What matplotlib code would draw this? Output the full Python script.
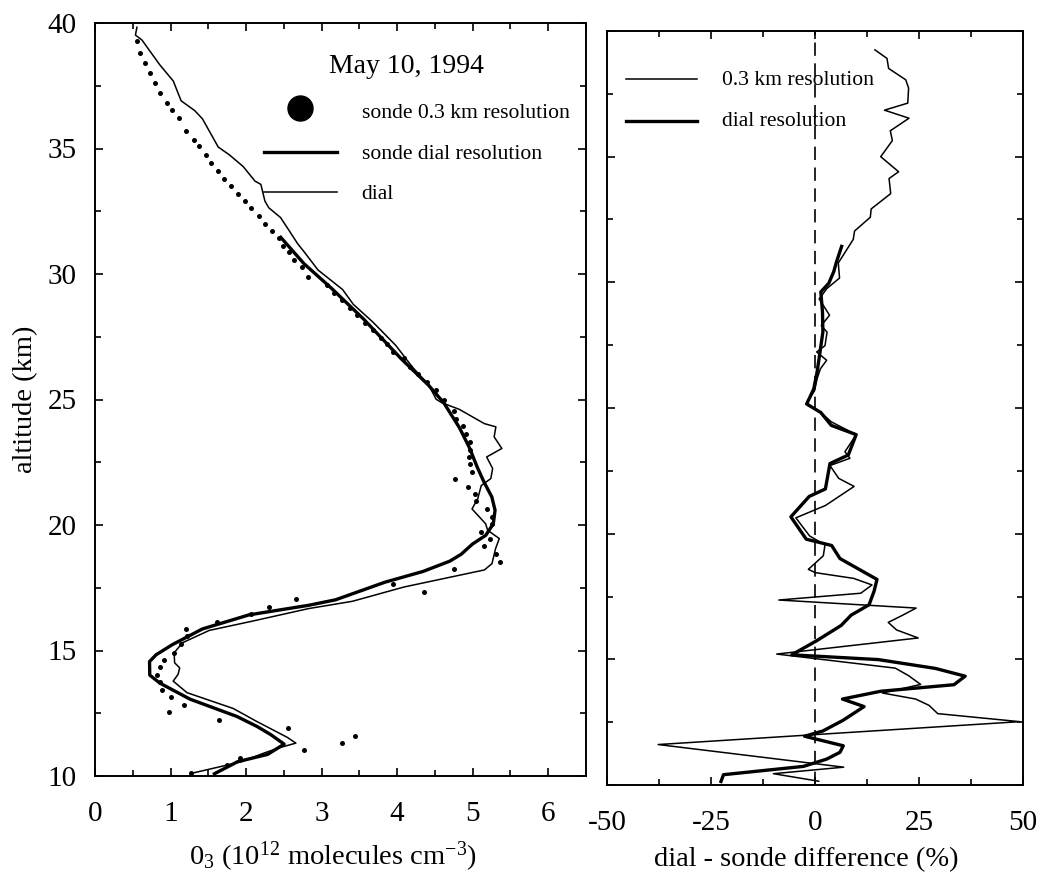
import matplotlib
matplotlib.use("Agg")
import matplotlib.pyplot as plt
from matplotlib.ticker import MultipleLocator

plt.rcParams.update({
    "font.family": ["Liberation Serif", "DejaVu Serif"],
    "mathtext.fontset": "custom",
    "mathtext.rm": "Liberation Serif",
    "mathtext.it": "Liberation Serif:italic",
    "mathtext.bf": "Liberation Serif:bold",
    "mathtext.default": "regular",
    "axes.unicode_minus": False,
    "axes.linewidth": 1.4,
})

# ---- left panel: ozone number density profiles, May 10, 1994 ----
# ozonesonde at 0.3 km resolution (altitude km, O3 in 1e12 molecules cm^-3)
sonde_alt = [39.28, 38.79, 38.40, 38.01, 37.61, 37.23, 36.82, 36.53, 36.23, 35.70,
             35.35, 35.09, 34.75, 34.42, 34.11, 33.80, 33.52, 33.18, 32.89, 32.61,
             32.30, 32.00, 31.72, 31.43, 31.13, 30.86, 30.54, 30.28, 29.88, 29.57,
             29.25, 28.95, 28.65, 28.35, 28.05, 27.75, 27.45, 27.20, 26.91, 26.64,
             26.31, 26.00, 25.70, 25.39, 25.00, 24.54, 24.21, 23.93, 23.62, 23.32,
             23.00, 22.69, 22.43, 22.13, 21.84, 21.53, 21.24, 20.95, 20.65, 20.32,
             20.02, 19.72, 19.43, 19.15, 18.86, 18.53, 18.23, 17.65, 17.35, 17.06,
             16.74, 16.45, 16.13, 15.84, 15.56, 15.24, 14.92, 14.63, 14.34, 14.03,
             13.74, 13.44, 13.14, 12.83, 12.54, 12.24, 11.91, 11.61, 11.31, 11.02,
             10.70, 10.43, 10.11]
sonde_o3 = [0.557, 0.599, 0.662, 0.730, 0.798, 0.861, 0.953, 1.025, 1.107, 1.207,
            1.310, 1.376, 1.464, 1.532, 1.624, 1.712, 1.800, 1.893, 1.980, 2.062,
            2.166, 2.253, 2.346, 2.433, 2.485, 2.563, 2.640, 2.742, 2.820, 3.075,
            3.17, 3.27, 3.37, 3.47, 3.58, 3.68, 3.78, 3.86, 3.949, 4.092,
            4.166, 4.27, 4.40, 4.514, 4.62, 4.746, 4.783, 4.876, 4.917, 4.970,
            4.96, 4.957, 4.958, 4.995, 4.768, 4.937, 5.024, 5.041, 5.194, 5.262,
            5.25, 5.106, 5.224, 5.150, 5.304, 5.356, 4.759, 3.949, 4.356, 2.663,
            2.309, 2.068, 1.612, 1.207, 1.219, 1.134, 1.048, 0.918, 0.859, 0.819,
            0.86, 0.893, 1.000, 1.179, 0.983, 1.645, 2.558, 3.448, 3.266, 2.766,
            1.915, 1.753, 1.268]

# ozonesonde degraded to the lidar resolution
sonde_dial_alt = [31.46, 30.41, 29.44, 28.20, 26.63, 25.58, 24.87, 23.88, 23.09, 22.30,
                  21.71, 21.12, 20.59, 20.05, 19.59, 19.24, 18.83, 18.56, 18.15, 17.72,
                  17.02, 16.80, 16.42, 15.86, 15.24, 14.83, 14.56, 14.02, 13.70, 13.06,
                  12.37, 11.97, 11.65, 11.27, 10.86, 10.57, 10.09]
sonde_dial_o3 = [2.459, 2.767, 3.127, 3.557, 4.051, 4.412, 4.617, 4.824, 4.955, 5.061,
                 5.150, 5.253, 5.296, 5.273, 5.173, 4.997, 4.846, 4.697, 4.343, 3.837,
                 3.185, 2.827, 2.040, 1.423, 1.028, 0.809, 0.722, 0.725, 0.859, 1.259,
                 1.880, 2.147, 2.326, 2.504, 2.285, 1.888, 1.581]

# lidar (DIAL) profile
dial_alt = [39.83, 39.52, 39.32, 38.34, 37.69, 36.90, 36.51, 36.18, 35.06, 34.74,
            34.28, 33.70, 33.57, 32.91, 32.64, 32.25, 31.73, 31.21, 30.87, 30.16,
            29.38, 28.79, 28.08, 27.16, 26.30, 25.80, 25.47, 25.01, 24.87, 24.61,
            24.04, 23.91, 23.51, 23.05, 22.71, 22.25, 21.85, 21.57, 21.04, 20.64,
            20.05, 19.79, 19.46, 19.06, 18.46, 18.21, 17.53, 16.96, 16.67, 16.16,
            15.80, 15.31, 14.91, 14.51, 14.31, 14.05, 13.78, 13.32, 12.69, 12.18,
            11.54, 11.31, 11.13, 10.92, 10.57, 10.11]
dial_o3 = [0.555, 0.535, 0.622, 0.856, 1.036, 1.140, 1.320, 1.423, 1.631, 1.782,
           1.962, 2.118, 2.196, 2.249, 2.300, 2.456, 2.570, 2.682, 2.772, 2.952,
           3.278, 3.42, 3.68, 3.98, 4.20, 4.35, 4.437, 4.516, 4.592, 4.821,
           5.154, 5.307, 5.284, 5.386, 5.185, 5.264, 5.240, 5.113, 5.066, 4.991,
           5.171, 5.198, 5.352, 5.303, 5.255, 5.155, 4.091, 3.407, 2.828, 2.069,
           1.512, 1.159, 1.048, 1.054, 1.121, 1.100, 1.035, 1.218, 1.830, 2.137,
           2.545, 2.659, 2.445, 2.243, 1.941, 1.283]

# ---- right panel: dial - sonde difference (%) ----
diff_fine_alt = [39.25, 38.91, 38.51, 38.06, 37.73, 37.13, 36.85, 36.53, 36.03, 35.64,
                 35.00, 34.40, 34.13, 33.53, 32.92, 32.59, 32.04, 31.71, 30.77, 30.17,
                 29.76, 29.34, 28.69, 28.28, 28.02, 27.48, 27.23, 26.90, 26.56, 26.16,
                 25.69, 25.16, 24.82, 24.45, 23.94, 23.26, 23.00, 22.71, 22.20, 21.88,
                 21.12, 20.63, 19.91, 19.55, 19.12, 18.58, 18.45, 18.22, 17.96, 17.63,
                 17.36, 17.04, 16.75, 16.47, 16.17, 15.85, 15.21, 14.65, 14.35, 14.00,
                 13.66, 13.42, 13.17, 12.84, 12.52, 11.61, 10.71, 10.45, 10.15]
diff_fine = [14.4, 17.3, 17.7, 21.8, 22.5, 22.3, 16.7, 22.6, 18.1, 18.6,
             15.8, 20.1, 17.8, 18.2, 13.5, 13.3, 9.5, 9.2, 5.6, 5.9,
             2.9, 1.0, 3.5, 1.5, 2.9, 2.4, 0.4, 2.8, 1.3, 0.5,
             -0.1, -2.2, 1.4, 3.9, 9.9, 7.2, 8.4, 3.6, 5.7, 9.4,
             2.5, -4.6, -1.3, 2.4, 2.0, -1.6, 0.05, 9.3, 13.7, 11.0,
             -8.7, 24.3, 21.0, 17.6, 19.6, 24.8, -9.2, 19.3, 22.5, 25.4,
             16.2, 24.2, 27.4, 29.5, 49.2, -37.7, 6.9, -10.0, 0.9]

diff_dial_alt = [31.43, 30.83, 30.42, 29.96, 29.62, 28.82, 28.03, 27.22, 26.43, 25.76,
                 25.16, 24.82, 24.31, 23.94, 23.13, 22.79, 21.78, 21.48, 20.67, 19.78,
                 19.53, 19.01, 18.18, 17.71, 17.17, 16.76, 16.35, 15.73, 15.18, 14.99,
                 14.64, 14.33, 13.99, 13.73, 13.42, 13.12, 12.57, 12.15, 11.94, 11.56,
                 11.30, 11.03, 10.74, 10.41, 10.14]
diff_dial = [6.4, 5.2, 4.5, 3.3, 1.4, 1.8, 1.9, 1.2, 0.5, -0.3,
             -2.0, 1.4, 3.9, 9.9, 8.0, 3.6, 2.5, -1.4, -5.8, -2.1,
             4.0, 6.0, 14.9, 14.2, 13.0, 8.7, 6.3, 0.3, -5.6, 15.2,
             28.9, 36.1, 33.4, 15.8, 6.6, 11.8, 6.7, 1.9, -2.5, 6.8,
             6.0, 2.8, -2.8, -22.0, -22.6]

TICK_FS = 21
LABEL_FS = 20.5
LEG_FS = 15.6

fig = plt.figure(figsize=(10.4, 8.86), dpi=100)
ax1 = fig.add_axes([95 / 1040, 1 - 776 / 886, 491 / 1040, 753 / 886])
ax2 = fig.add_axes([607 / 1040, 1 - 785 / 886, 416 / 1040, 754 / 886])

# left panel
ax1.plot(sonde_o3, sonde_alt, "o", color="black", ms=3.6, mec="none")
ax1.plot(sonde_dial_o3, sonde_dial_alt, color="black", lw=2.4,
         solid_joinstyle="round")
ax1.plot(dial_o3, dial_alt, color="black", lw=1.1)
ax1.set_xlim(0, 6.5)
ax1.set_ylim(10, 40)
ax1.xaxis.set_major_locator(MultipleLocator(1))
ax1.xaxis.set_minor_locator(MultipleLocator(0.5))
ax1.yaxis.set_major_locator(MultipleLocator(5))
ax1.yaxis.set_minor_locator(MultipleLocator(2.5))
ax1.set_xlabel("0$_3$ (10$^{12}$ molecules cm$^{-3}$)", fontsize=LABEL_FS)
ax1.set_ylabel("altitude (km)", fontsize=LABEL_FS)
ax1.xaxis.set_label_coords(0.485, -0.085)
ax1.yaxis.set_label_coords(-0.116, 0.5)

# legend block drawn in axes coordinates
ax1.text(0.634, 0.942, "May 10, 1994", transform=ax1.transAxes,
         ha="center", va="center", fontsize=20)
ax1.plot([0.418], [0.887], "o", color="black", ms=18, transform=ax1.transAxes)
ax1.plot([0.344, 0.492], [0.829, 0.829], color="black", lw=2.4,
         transform=ax1.transAxes)
ax1.plot([0.344, 0.492], [0.775, 0.775], color="black", lw=1.1,
         transform=ax1.transAxes)
for ypos, txt in [(0.880, "sonde 0.3 km resolution"),
                  (0.825, "sonde dial resolution"),
                  (0.772, "dial")]:
    ax1.text(0.543, ypos, txt, transform=ax1.transAxes, ha="left",
             va="center", fontsize=LEG_FS)

# right panel
ax2.axvline(0, color="black", lw=1.2, ls=(0, (8, 4.5)))
ax2.plot(diff_fine, diff_fine_alt, color="black", lw=1.1)
ax2.plot(diff_dial, diff_dial_alt, color="black", lw=2.4,
         solid_joinstyle="round")
ax2.set_xlim(-50, 50)
ax2.set_ylim(10, 40)
ax2.xaxis.set_major_locator(MultipleLocator(25))
ax2.xaxis.set_minor_locator(MultipleLocator(12.5))
ax2.yaxis.set_major_locator(MultipleLocator(5))
ax2.yaxis.set_minor_locator(MultipleLocator(2.5))
ax2.set_xlabel("dial - sonde difference (%)", fontsize=LABEL_FS)
ax2.xaxis.set_label_coords(0.48, -0.082)

ax2.plot([0.0457, 0.217], [0.937, 0.937], color="black", lw=1.1,
         transform=ax2.transAxes)
ax2.plot([0.0457, 0.217], [0.881, 0.881], color="black", lw=2.4,
         transform=ax2.transAxes)
ax2.text(0.276, 0.935, "0.3 km resolution", transform=ax2.transAxes,
         ha="left", va="center", fontsize=LEG_FS)
ax2.text(0.276, 0.880, "dial resolution", transform=ax2.transAxes,
         ha="left", va="center", fontsize=LEG_FS)

for ax in (ax1, ax2):
    ax.tick_params(which="both", direction="in", top=True, right=True,
                   width=1.2, labelsize=TICK_FS)
    ax.tick_params(which="major", length=6)
    ax.tick_params(which="minor", length=4.5)
    ax.tick_params(axis="x", which="both", pad=18)
    ax.tick_params(axis="y", which="both", pad=13)
ax2.tick_params(axis="y", which="both", labelleft=False)

fig.savefig("out.png", dpi=100)
